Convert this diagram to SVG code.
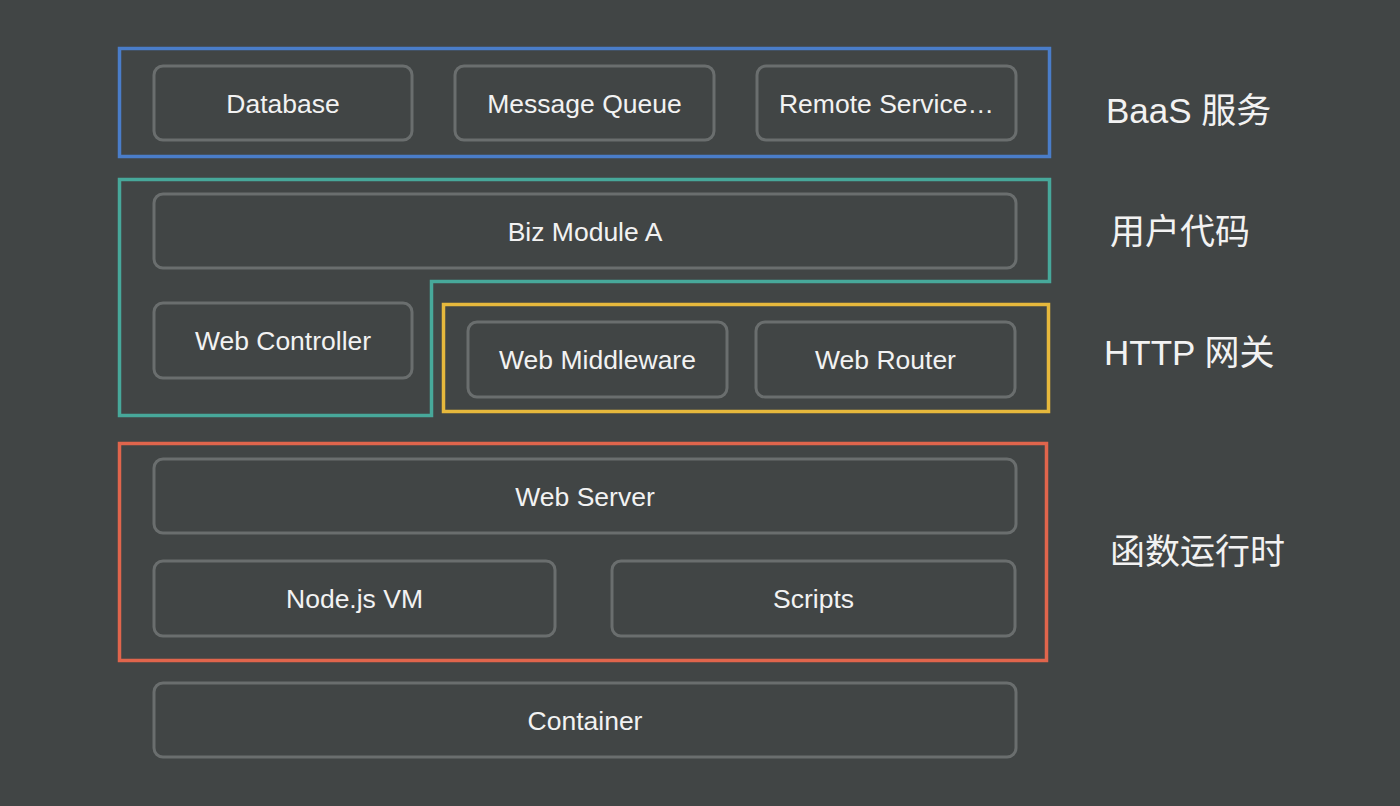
<svg xmlns="http://www.w3.org/2000/svg" width="1400" height="806" viewBox="0 0 1400 806">
<style>
.n{fill:#414545;stroke:#6a6e6e;stroke-width:3}
.t{font-family:"Liberation Sans",Arial,sans-serif;font-size:26.5px;fill:#f2f2f2;text-anchor:middle;dominant-baseline:central}
.l{font-family:"Liberation Sans","Noto Sans CJK SC",sans-serif;font-size:35px;fill:#f2f2f2}
.g{fill:none;stroke-width:3.5}
</style>
<rect width="1400" height="806" fill="#414545"/>
<g id="groups">
<rect id="baas" class="g" x="119.5" y="48.5" width="930" height="108" stroke="#4a7dc9"/>
<path id="user" class="g" d="M119.5 179.5 H1049.5 V281.5 H431.5 V415.5 H119.5 Z" stroke="#47a89a"/>
<rect id="http" class="g" x="443.5" y="304.5" width="605" height="107" stroke="#e6b83c"/>
<rect id="runtime" class="g" x="119.5" y="443.5" width="927" height="217" stroke="#e0654c"/>
</g>
<g id="database"><rect class="n" x="154" y="66" width="258" height="74" rx="9"/><text class="t" x="283" y="104">Database</text></g>
<g id="mq"><rect class="n" x="455" y="66" width="259" height="74" rx="9"/><text class="t" x="584.5" y="104">Message Queue</text></g>
<g id="remote"><rect class="n" x="757" y="66" width="259" height="74" rx="9"/><text class="t" x="886.5" y="104">Remote Service…</text></g>
<g id="biz"><rect class="n" x="154" y="194" width="862" height="74" rx="9"/><text class="t" x="585" y="232">Biz Module A</text></g>
<g id="controller"><rect class="n" x="154" y="303" width="258" height="75" rx="9"/><text class="t" x="283" y="341">Web Controller</text></g>
<g id="middleware"><rect class="n" x="468" y="322" width="259" height="75" rx="9"/><text class="t" x="597.5" y="360">Web Middleware</text></g>
<g id="router"><rect class="n" x="756" y="322" width="259" height="75" rx="9"/><text class="t" x="885.5" y="360">Web Router</text></g>
<g id="webserver"><rect class="n" x="154" y="459" width="862" height="74" rx="9"/><text class="t" x="585" y="497">Web Server</text></g>
<g id="nodevm"><rect class="n" x="154" y="561" width="401" height="75" rx="9"/><text class="t" x="354.5" y="599">Node.js VM</text></g>
<g id="scripts"><rect class="n" x="612" y="561" width="403" height="75" rx="9"/><text class="t" x="813.5" y="599">Scripts</text></g>
<g id="container"><rect class="n" x="154" y="683" width="862" height="74" rx="9"/><text class="t" x="585" y="721">Container</text></g>
<g id="labels">
<text class="l" x="1106" y="123">BaaS 服务</text>
<text class="l" x="1110" y="244">用户代码</text>
<text class="l" x="1104" y="365">HTTP 网关</text>
<text class="l" x="1110" y="564">函数运行时</text>
</g>
<g id="connectors"/>
</svg>
